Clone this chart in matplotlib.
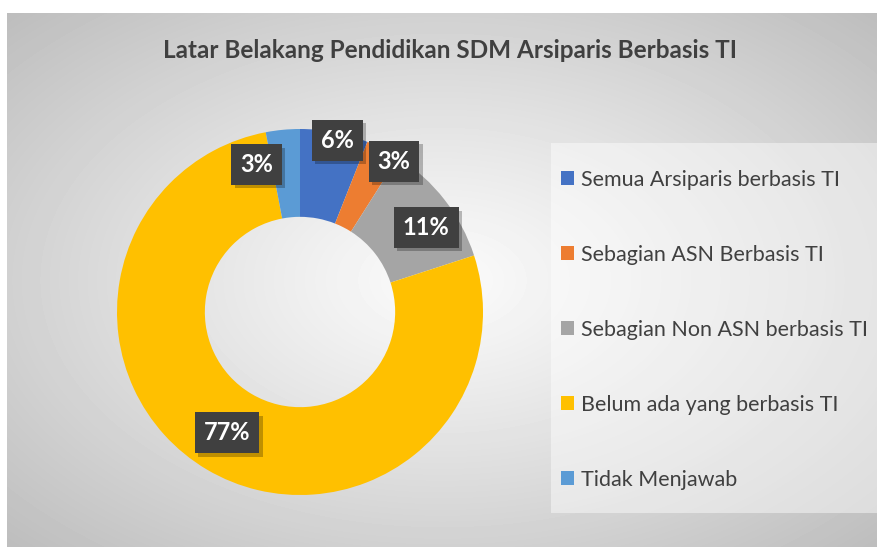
import numpy as np
import matplotlib
matplotlib.use('Agg')
import matplotlib.pyplot as plt
import matplotlib.patches as mpatches
import matplotlib.patheffects as pe

plt.rcParams['font.family'] = ['Lato', 'DejaVu Sans']

# ---- data ----
categories = ['Semua Arsiparis berbasis TI', 'Sebagian ASN Berbasis TI',
              'Sebagian Non ASN berbasis TI', 'Belum ada yang berbasis TI',
              'Tidak Menjawab']
percent = [6, 3, 11, 77, 3]
colors = ['#4472C4', '#ED7D31', '#A5A5A5', '#FFC000', '#5B9BD5']
title = 'Latar Belakang Pendidikan SDM Arsiparis Berbasis TI'

# label placement nudges (radius as fraction of outer radius, angle shift in degrees)
label_nudge = [(0.96, -1.5), (0.97, -5), (0.83, -4), (0.77, -0.5), (0.84, 11)]

W, H = 877, 547
fig = plt.figure(figsize=(W / 100, H / 100), dpi=100)
fig.patch.set_facecolor('white')

# ---- radial gradient background (chart area) ----
x0, y0 = 7, 13
bg = fig.add_axes([x0 / W, 0, 1 - x0 / W, (H - y0) / H])
bg.set_axis_off()
gw, gh = W - x0, H - y0
yy, xx = np.mgrid[0:gh, 0:gw]
cx, cy = gw * 0.50, gh * 0.50
d = np.sqrt(((xx - cx) / (gw / 2)) ** 2 + ((yy - cy) / (gh / 2)) ** 2) / np.sqrt(2)
val = (251 - 62 * np.clip(d, 0, 1) ** 1.1) / 255
bg.imshow(val, cmap='gray', vmin=0, vmax=1, aspect='auto',
          interpolation='bilinear')

# legend panel (lighter box)
fig.patches.append(mpatches.Rectangle(
    (551 / W, 1 - 513 / H), (W - 551) / W, (513 - 143) / H,
    transform=fig.transFigure, facecolor='white', alpha=0.45,
    edgecolor='none', zorder=1))

# ---- donut ----
R = 183
pcx, pcy = 300, H - 312
ax = fig.add_axes([(pcx - R) / W, (pcy - R) / H, 2 * R / W, 2 * R / H])
wedges, _ = ax.pie(percent, colors=colors, startangle=90, counterclock=False,
                   radius=1, wedgeprops=dict(width=0.48, linewidth=0))
ax.set_xlim(-1, 1)
ax.set_ylim(-1, 1)
ax.set_aspect('equal')

# data labels
cum = np.cumsum([0] + percent[:-1])
total = sum(percent)
for p, c, (r, da) in zip(percent, cum, label_nudge):
    ang = np.deg2rad(90 - (c + p / 2) / total * 360 + da)
    x, y = r * np.cos(ang), r * np.sin(ang)
    t = ax.text(x, y, f'{p}%', fontsize=17, fontweight='bold', color='white',
                ha='center', va='center', clip_on=False, zorder=5,
                bbox=dict(boxstyle='square,pad=0.38', facecolor='#404040',
                          edgecolor='none'))
    t.get_bbox_patch().set_path_effects([
        pe.SimplePatchShadow(offset=(2.5, -2.5), shadow_rgbFace='black',
                             alpha=0.25), pe.Normal()])

# ---- title ----
fig.text(450 / W, 1 - 50 / H, title, ha='center', va='center',
         fontsize=17.5, fontweight='bold', color='#404040')

# ---- legend ----
leg = fig.legend(wedges, categories, loc='upper left',
                 bbox_to_anchor=(561 / W, 1 - 170 / H), fontsize=15.5,
                 labelspacing=2.55, handlelength=0.62, handleheight=0.62,
                 handletextpad=0.3, borderpad=0, borderaxespad=0,
                 frameon=False, labelcolor='#404040')

fig.savefig('out.png', dpi=100)
